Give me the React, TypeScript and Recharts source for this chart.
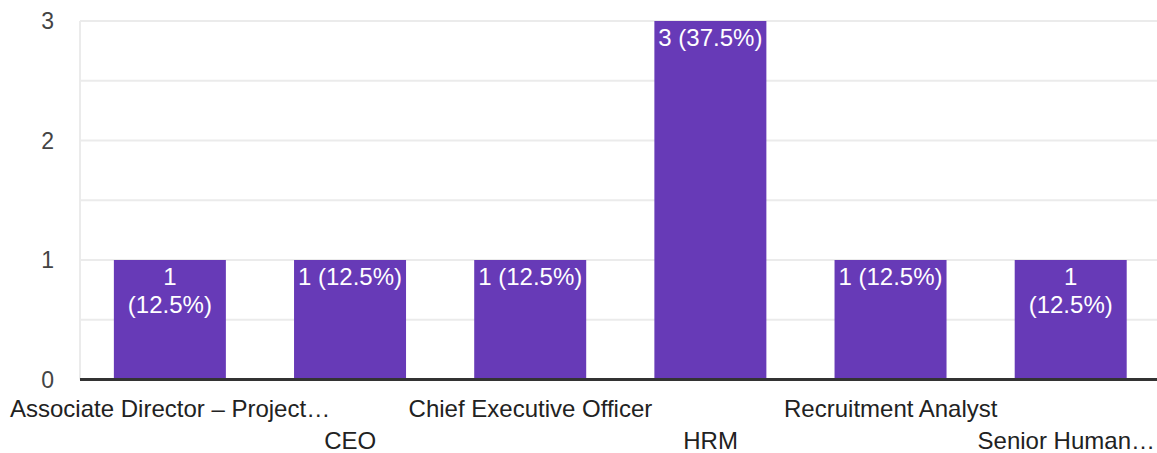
import { Bar, BarChart, CartesianGrid, LabelList, XAxis, YAxis } from "recharts";

const roles = [
    "Associate Director – Project…",
    "CEO",
    "Chief Executive Officer",
    "HRM",
    "Recruitment Analyst",
    "Senior Human…",
];
const counts = [1, 1, 1, 3, 1, 1];
const yTicks = [0, 0.5, 1, 1.5, 2, 2.5, 3];
// bars whose value label is broken over two lines
const wrappedLabels = [0, 5];

const total = counts.reduce((a, b) => a + b, 0);
const chartData = roles.map((role, i) => ({ role, count: counts[i] }));

const FONT = "Arial, 'Liberation Sans', sans-serif";
const VIEW_WIDTH = 1157;

let measureCtx: CanvasRenderingContext2D | null = null;
function textWidth(text: string, size: number) {
    if (!measureCtx) measureCtx = document.createElement("canvas").getContext("2d");
    if (!measureCtx) return 0;
    measureCtx.font = `${size}px ${FONT}`;
    return measureCtx.measureText(text).width;
}

function RoleTick(props: any) {
    const { x, y, payload, index } = props;
    const row = index % 2;
    const w = textWidth(payload.value, 24);
    // keep the label inside the visible area, like the original does
    const cx = Math.min(x, VIEW_WIDTH - 2 - w / 2);
    return (
        <text
            x={cx}
            y={y + (row === 0 ? 35.5 : 67.5)}
            textAnchor="middle"
            fill="#222222"
            fontSize={24}
            fontFamily={FONT}
        >
            {payload.value}
        </text>
    );
}

function ValueLabel(props: any) {
    const { x, y, width, value, index } = props;
    const pct = `(${((value / total) * 100).toFixed(1)}%)`;
    const cx = x + width / 2;
    if (wrappedLabels.includes(index)) {
        return (
            <text textAnchor="middle" fill="#ffffff" fontSize={24} fontFamily={FONT}>
                <tspan x={cx} y={y + 25}>{value}</tspan>
                <tspan x={cx} y={y + 53}>{pct}</tspan>
            </text>
        );
    }
    return (
        <text x={cx} y={y + 25} textAnchor="middle" fill="#ffffff" fontSize={24} fontFamily={FONT}>
            {`${value} ${pct}`}
        </text>
    );
}

export default function App() {
    return (
        <div style={{ position: "absolute", left: 0, top: 0, width: VIEW_WIDTH, height: 453, overflow: "hidden", background: "#ffffff" }}>
            <BarChart
                width={1161}
                height={453}
                data={chartData}
                margin={{ top: 21, right: 0, bottom: 0, left: 0 }}
                barCategoryGap="18.8%"
            >
                <CartesianGrid vertical={false} stroke="#ebebeb" strokeWidth={2} />
                <YAxis
                    domain={[0, 3]}
                    ticks={yTicks}
                    width={80}
                    interval={0}
                    tickSize={0}
                    tickMargin={26}
                    axisLine={{ stroke: "#ebebeb", strokeWidth: 2 }}
                    tickLine={false}
                    tickFormatter={(v: number) => (Number.isInteger(v) ? String(v) : "")}
                    tick={{ fill: "#444444", fontSize: 23, fontFamily: FONT }}
                />
                <XAxis
                    dataKey="role"
                    height={73.5}
                    interval={0}
                    tickSize={0}
                    tickLine={false}
                    axisLine={{ stroke: "#333333", strokeWidth: 3 }}
                    tick={<RoleTick />}
                />
                <Bar dataKey="count" fill="#673ab7" isAnimationActive={false}>
                    <LabelList dataKey="count" content={<ValueLabel />} />
                </Bar>
            </BarChart>
        </div>
    );
}
